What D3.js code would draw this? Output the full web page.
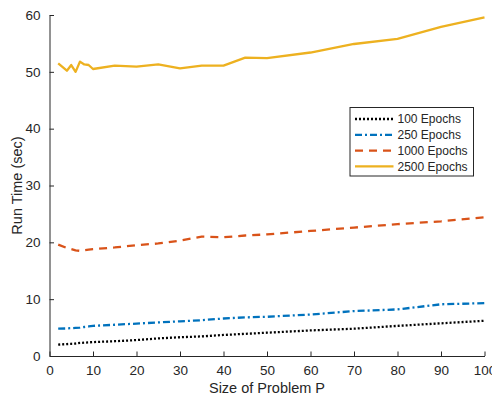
<!DOCTYPE html>
<html>
<head>
<meta charset="utf-8">
<script src="https://cdn.jsdelivr.net/npm/d3@7"></script>
<style>
  html, body { margin: 0; padding: 0; background: #fff; }
  svg { display: block; }
  text { font-family: "Liberation Sans", Arial, Helvetica, sans-serif; fill: #262626; }
</style>
</head>
<body>
<svg id="chart" width="492" height="401"></svg>
<script>
// Problem sizes P on the x axis
const sizes = [2, 4, 5, 6, 7, 8, 9, 10, 15, 20, 25, 30, 35, 40, 45, 50, 60, 70, 80, 90, 100];

// Run time (sec) for each epoch setting
const epochs100  = [2.0, 2.1, 2.15, 2.2, 2.3, 2.35, 2.4, 2.45, 2.6, 2.8, 3.1, 3.3, 3.45, 3.7, 3.9, 4.1, 4.5, 4.8, 5.3, 5.75, 6.2];
const epochs250  = [4.8, 4.85, 4.9, 4.95, 5.0, 5.1, 5.2, 5.3, 5.5, 5.7, 5.9, 6.1, 6.3, 6.6, 6.8, 6.9, 7.3, 7.9, 8.2, 9.1, 9.3];
const epochs1000 = [19.6, 19.0, 18.8, 18.6, 18.5, 18.6, 18.7, 18.8, 19.1, 19.5, 19.8, 20.3, 21.0, 20.9, 21.2, 21.4, 22.0, 22.6, 23.2, 23.7, 24.4];
const epochs2500 = [51.5, 50.2, 51.2, 50.0, 51.8, 51.3, 51.2, 50.5, 51.1, 50.9, 51.3, 50.6, 51.1, 51.1, 52.5, 52.4, 53.4, 54.9, 55.8, 57.9, 59.6];

const seriesNames = ["100 Epochs", "250 Epochs", "1000 Epochs", "2500 Epochs"];
const xTicks = [0, 10, 20, 30, 40, 50, 60, 70, 80, 90, 100];
const yTicks = [0, 10, 20, 30, 40, 50, 60];

const series = [
  { name: seriesNames[0], values: epochs100,  color: "#000000", dash: "2,2" },
  { name: seriesNames[1], values: epochs250,  color: "#0072BD", dash: "7,3,2,3" },
  { name: seriesNames[2], values: epochs1000, color: "#D95319", dash: "8,6" },
  { name: seriesNames[3], values: epochs2500, color: "#EDB120", dash: null }
];

const svg = d3.select("#chart");
const margin = { left: 49.5, right: 484.5, top: 15, bottom: 356 };

const x = d3.scaleLinear().domain([0, 100]).range([margin.left, margin.right]);
const y = d3.scaleLinear().domain([0, 60]).range([margin.bottom, margin.top]);

const axisColor = "#262626";

// Axes with inward ticks
const xAxis = svg.append("g")
  .attr("transform", `translate(0,${margin.bottom})`)
  .call(d3.axisBottom(x).tickValues(xTicks).tickSizeInner(-4.5).tickSizeOuter(0).tickPadding(9));
const yAxis = svg.append("g")
  .attr("transform", `translate(${margin.left},0)`)
  .call(d3.axisLeft(y).tickValues(yTicks).tickSizeInner(-4.5).tickSizeOuter(0).tickPadding(9));

[xAxis, yAxis].forEach(g => {
  g.select(".domain").attr("stroke", axisColor).attr("stroke-width", 1);
  g.selectAll(".tick line").attr("stroke", axisColor).attr("stroke-width", 1);
  g.selectAll(".tick text")
    .attr("font-family", "Liberation Sans, Arial, sans-serif")
    .attr("font-size", 13.5)
    .attr("fill", axisColor);
});
xAxis.selectAll(".tick text").attr("dy", "0.72em");

// Axis titles
svg.append("text")
  .attr("x", (margin.left + margin.right) / 2)
  .attr("y", 393)
  .attr("text-anchor", "middle")
  .attr("font-size", 14.5)
  .text("Size of Problem P");

svg.append("text")
  .attr("transform", `translate(22,${(margin.top + margin.bottom) / 2}) rotate(-90)`)
  .attr("text-anchor", "middle")
  .attr("font-size", 14.5)
  .text("Run Time (sec)");

// Lines
const line = d3.line()
  .x((d, i) => x(sizes[i]))
  .y(d => y(d));

series.forEach(s => {
  svg.append("path")
    .datum(s.values)
    .attr("fill", "none")
    .attr("stroke", s.color)
    .attr("stroke-width", 2.3)
    .attr("stroke-dasharray", s.dash)
    .attr("stroke-linejoin", "round")
    .attr("d", line);
});

// Legend
const legend = svg.append("g").attr("transform", "translate(350,107.5)");
legend.append("rect")
  .attr("width", 123.5).attr("height", 68.5)
  .attr("fill", "#fff")
  .attr("stroke", axisColor)
  .attr("stroke-width", 1);

series.forEach((s, i) => {
  const cy = 11.5 + i * 15.8;
  legend.append("line")
    .attr("x1", 5).attr("x2", 43.5)
    .attr("y1", cy).attr("y2", cy)
    .attr("stroke", s.color)
    .attr("stroke-width", 2.3)
    .attr("stroke-dasharray", s.dash);
  legend.append("text")
    .attr("x", 47.5).attr("y", cy)
    .attr("dy", "0.36em")
    .attr("font-size", 12)
    .text(s.name);
});
</script>
</body>
</html>
